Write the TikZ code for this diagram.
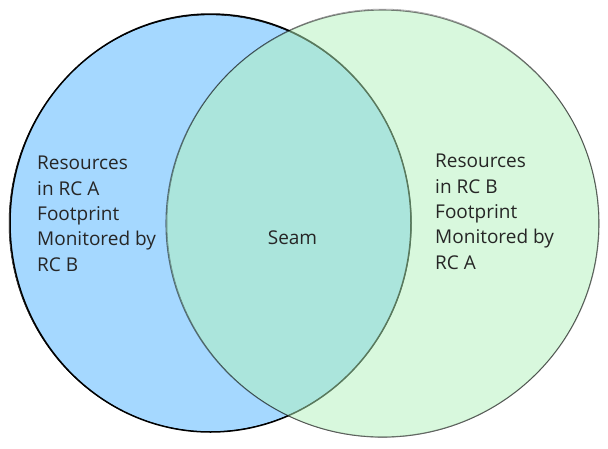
\documentclass[tikz,border=0pt]{standalone}
\usepackage{fontspec}
\setmainfont{Open Sans}
\definecolor{blueA}{HTML}{A5D8FF}
\definecolor{greenB}{HTML}{B2F2BB}
\definecolor{txt}{HTML}{262626}
\tikzset{
  label/.style={inner sep=0pt, align=left, text=txt, font=\fontsize{19}{25.3}\selectfont},
  circA/.style={fill=blueA, draw=black, line width=1.5pt},
  circB/.style={fill=greenB, fill opacity=0.5, draw=black, draw opacity=0.5, line width=1.1pt},
}
\begin{document}
\begin{tikzpicture}[x=1pt,y=-1pt]
\useasboundingbox (0,0) rectangle (608,448);
% left set
\path[circA] (210.5,223) ellipse [x radius=200.5, y radius=209];
\draw[black, line width=0.5pt] (210.2,223.3) ellipse [x radius=201.2, y radius=208.4];
% right set
\path[circB] (382.5,223.5) ellipse [x radius=216.5, y radius=213.5];
\draw[black, draw opacity=0.4, line width=0.5pt] (382.8,223.2) ellipse [x radius=215.8, y radius=214.2];
% labels (base = last line)
\node[label, anchor=base west] (la) at (37,271) {Resources\\in RC A\\Footprint\\Monitored by\\RC B};
\node[label, anchor=base west] (lb) at (435,269) {Resources\\in RC B\\Footprint\\Monitored by\\RC A};
\node[label, anchor=base] (seam) at (292.5,244) {Seam};
\end{tikzpicture}
\end{document}
